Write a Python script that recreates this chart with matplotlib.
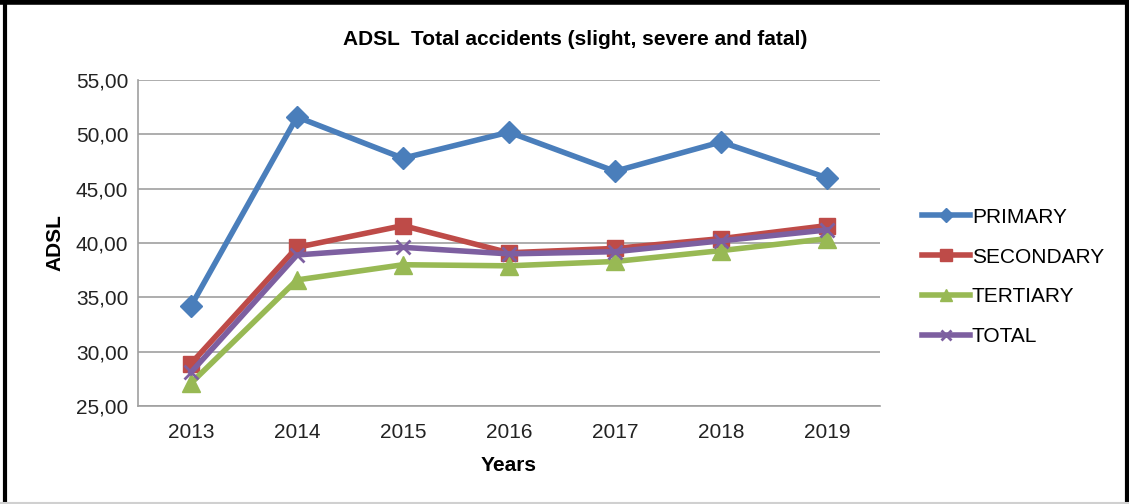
import matplotlib.pyplot as plt
from matplotlib.lines import Line2D

years = ["2013", "2014", "2015", "2016", "2017", "2018", "2019"]
primary = [34.2, 51.6, 47.8, 50.2, 46.6, 49.3, 46.0]
secondary = [28.9, 39.6, 41.6, 39.1, 39.5, 40.4, 41.6]
tertiary = [27.1, 36.6, 38.0, 37.9, 38.3, 39.3, 40.4]
total = [28.1, 38.9, 39.6, 39.0, 39.2, 40.2, 41.2]

plt.rcParams['font.family'] = ['Liberation Sans', 'DejaVu Sans']

fig = plt.figure(figsize=(11.29, 5.04), dpi=100)
ax = fig.add_axes([138 / 1129, 1 - 406 / 504, 742 / 1129, 326 / 504])

x = range(len(years))
ax.plot(x, primary, color="#4a7ebb", lw=4, marker="D", ms=11, label="PRIMARY", zorder=3)
ax.plot(x, secondary, color="#be4b48", lw=4, marker="s", ms=12, label="SECONDARY", zorder=3)
ax.plot(x, tertiary, color="#98b954", lw=4, marker="^", ms=13, label="TERTIARY", zorder=3)
ax.plot(x, total, color="#7d5fa0", lw=4, marker="x", ms=10, mew=2, label="TOTAL", zorder=4)

ax.set_xlim(-0.5, 6.5)
ax.set_ylim(25, 55)
ax.set_yticks(range(25, 56, 5))
ax.set_yticklabels([f"{v},00" for v in range(25, 56, 5)], fontsize=15, color="#222222")
ax.set_xticks(list(x))
ax.set_xticklabels(years, fontsize=15, color="#222222")
ax.tick_params(length=0, pad=12)
ax.tick_params(axis="y", pad=7)
ax.grid(axis="y", color="#a0a0a0", lw=1.2)
ax.set_axisbelow(True)
for s in ["top", "right"]:
    ax.spines[s].set_visible(False)
for s in ["left", "bottom"]:
    ax.spines[s].set_color("#a0a0a0")
    ax.spines[s].set_linewidth(1.2)

ax.set_xlabel("Years", fontsize=15, fontweight="bold", labelpad=10)
ax.set_ylabel("ADSL", fontsize=15, fontweight="bold", labelpad=8)
fig.text(575 / 1129, 1 - 40 / 504, "ADSL  Total accidents (slight, severe and fatal)",
         ha="center", va="center", fontsize=15, fontweight="bold")

handles = [
    Line2D([], [], color="#4a7ebb", lw=4, marker="D", ms=7),
    Line2D([], [], color="#be4b48", lw=4, marker="s", ms=8),
    Line2D([], [], color="#98b954", lw=4, marker="^", ms=8),
    Line2D([], [], color="#7d5fa0", lw=4, marker="x", ms=7, mew=2),
]
fig.legend(handles, ["PRIMARY", "SECONDARY", "TERTIARY", "TOTAL"],
           loc="center left", bbox_to_anchor=(922 / 1129, 1 - 277 / 504),
           frameon=False, fontsize=15, handlelength=2.3, handletextpad=0.1,
           labelspacing=1.0, borderaxespad=0, borderpad=0)

# outer frame: black on three sides, light grey at the bottom
fig.add_artist(Line2D([0.004, 0.004], [0, 1], color="black", lw=3, transform=fig.transFigure))
fig.add_artist(Line2D([0.998, 0.998], [0, 1], color="black", lw=3, transform=fig.transFigure))
fig.add_artist(Line2D([0, 1], [0.996, 0.996], color="black", lw=4, transform=fig.transFigure))
fig.add_artist(Line2D([0, 1], [0.002, 0.002], color="#d0d0d0", lw=1.5, transform=fig.transFigure))

fig.savefig("out.png", dpi=100)
